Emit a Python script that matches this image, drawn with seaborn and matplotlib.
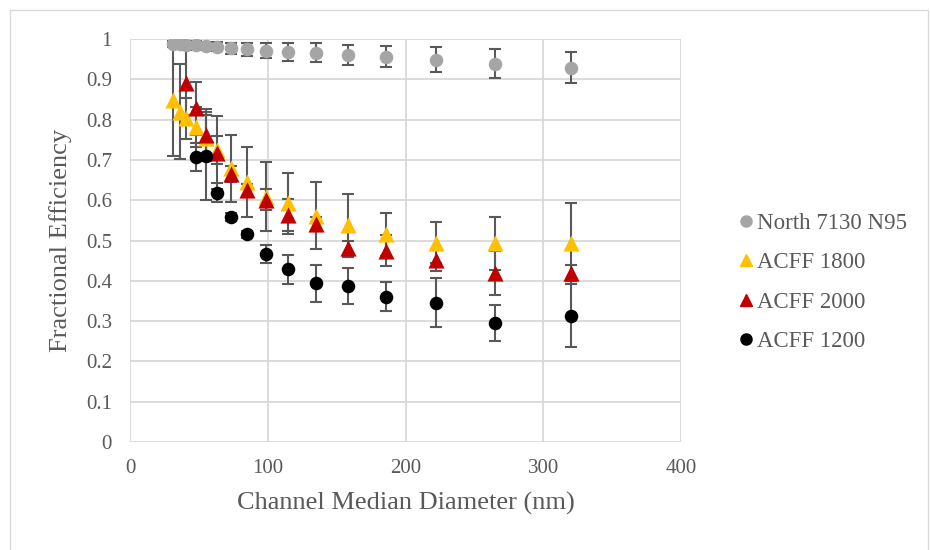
import numpy as np
import pandas as pd
import matplotlib
matplotlib.use("Agg")
import matplotlib.pyplot as plt
from matplotlib.lines import Line2D
from matplotlib.patches import Rectangle
import seaborn as sns

# ---- data ----
diam_all = [31, 36, 41, 48, 55, 63, 73, 85, 99, 115, 135, 158, 186, 222, 265, 320]

n95_x = diam_all
n95_y = [0.988, 0.987, 0.986, 0.985, 0.983, 0.981, 0.977, 0.974, 0.971, 0.967,
         0.966, 0.960, 0.956, 0.949, 0.939, 0.929]
n95_err = [0.008, 0.008, 0.008, 0.009, 0.010, 0.012, 0.014, 0.017, 0.019, 0.022,
           0.023, 0.025, 0.026, 0.030, 0.037, 0.038]

a1800_x = diam_all
a1800_y = [0.849, 0.820, 0.803, 0.782, 0.754, 0.725, 0.679, 0.646, 0.609, 0.592,
           0.561, 0.538, 0.515, 0.495, 0.493, 0.493]
a1800_err = [0.140, 0.117, 0.050, 0.050, 0.057, 0.035, 0.083, 0.087, 0.085, 0.075,
             0.083, 0.078, 0.054, 0.050, 0.066, 0.100]

a2000_x = diam_all[2:]
a2000_y = [0.892, 0.828, 0.762, 0.718, 0.664, 0.625, 0.601, 0.563, 0.541, 0.481,
           0.475, 0.452, 0.420, 0.419]
a2000_err = [0.080, 0.065, 0.064, 0.090, 0.020, 0.016, 0.026, 0.040, 0.017, 0.019,
             0.038, 0.027, 0.054, 0.020]

a1200_x = diam_all[3:]
a1200_y = [0.708, 0.710, 0.619, 0.558, 0.515, 0.466, 0.429, 0.394, 0.387, 0.361,
           0.346, 0.296, 0.313]
a1200_err = [0.035, 0.110, 0.023, 0.010, 0.008, 0.022, 0.036, 0.046, 0.044, 0.035,
             0.061, 0.045, 0.078]

series_names = ["North 7130 N95", "ACFF 1800", "ACFF 2000", "ACFF 1200"]
colors = ["#A5A5A5", "#FFC000", "#C00000", "#000000"]
markers = ["o", "^", "^", "o"]
marker_area = [95, 135, 135, 95]

frames = []
for name, xs, ys, es in zip(series_names,
                            [n95_x, a1800_x, a2000_x, a1200_x],
                            [n95_y, a1800_y, a2000_y, a1200_y],
                            [n95_err, a1800_err, a2000_err, a1200_err]):
    frames.append(pd.DataFrame({"series": name, "x": xs, "y": ys, "err": es}))
df = pd.concat(frames, ignore_index=True)

# ---- style ----
sns.set_theme(style="white")
plt.rcParams["font.family"] = ["Liberation Serif", "DejaVu Serif"]
text_col = "#595959"
grid_col = "#D9D9D9"

fig = plt.figure(figsize=(9.3, 5.5), dpi=100)
ax = fig.add_axes([130 / 930, 1 - 442 / 550, (681 - 130) / 930, (442 - 39) / 550])

# chart area border
fig.patches.append(Rectangle((10 / 930, -0.01), 1 - 10 / 930 - 0.002, 1 - 10 / 550 + 0.01,
                             transform=fig.transFigure, fill=False,
                             edgecolor=grid_col, linewidth=1.0))

# error bars
for name in series_names:
    d = df[df["series"] == name]
    ax.errorbar(d["x"], d["y"], yerr=d["err"], fmt="none", ecolor="#595959",
                elinewidth=1.5, capsize=4.3, capthick=1.5, zorder=2)

# markers
for name, c, m, s in zip(series_names, colors, markers, marker_area):
    sns.scatterplot(data=df[df["series"] == name], x="x", y="y",
                    color=c, marker=m, s=s, linewidth=0, legend=False,
                    ax=ax, zorder=3)

ax.set_xlim(0, 400)
ax.set_ylim(0, 1)
ax.set_xticks([0, 100, 200, 300, 400])
ax.set_yticks([0, 0.1, 0.2, 0.3, 0.4, 0.5, 0.6, 0.7, 0.8, 0.9, 1.0])
ax.set_yticklabels(["0", "0.1", "0.2", "0.3", "0.4", "0.5", "0.6", "0.7", "0.8", "0.9", "1"])
ax.grid(True, color=grid_col, linewidth=1.3)
ax.set_axisbelow(True)
for sp in ax.spines.values():
    sp.set_visible(False)
ax.tick_params(axis="both", length=0, labelsize=15, labelcolor=text_col)
ax.tick_params(axis="x", pad=12)
ax.tick_params(axis="y", pad=13)
ax.set_xlabel("Channel Median Diameter (nm)", fontsize=19, color=text_col, labelpad=10)
ax.set_ylabel("Fractional Efficiency", fontsize=19, color=text_col, labelpad=10)

handles = [Line2D([0], [0], marker=m, linestyle="none", markerfacecolor=c,
                  markeredgecolor=c, markersize=8.5 if m == "^" else 8)
           for m, c in zip(markers, colors)]
leg = fig.legend(handles, series_names, loc="center left",
                 bbox_to_anchor=(738 / 930, 1 - 282.5 / 550), frameon=False,
                 fontsize=16.5, labelspacing=0.8, handlelength=0.7,
                 handletextpad=0.15, borderaxespad=0, borderpad=0)
for t in leg.get_texts():
    t.set_color(text_col)

fig.savefig("out.png", dpi=100)
